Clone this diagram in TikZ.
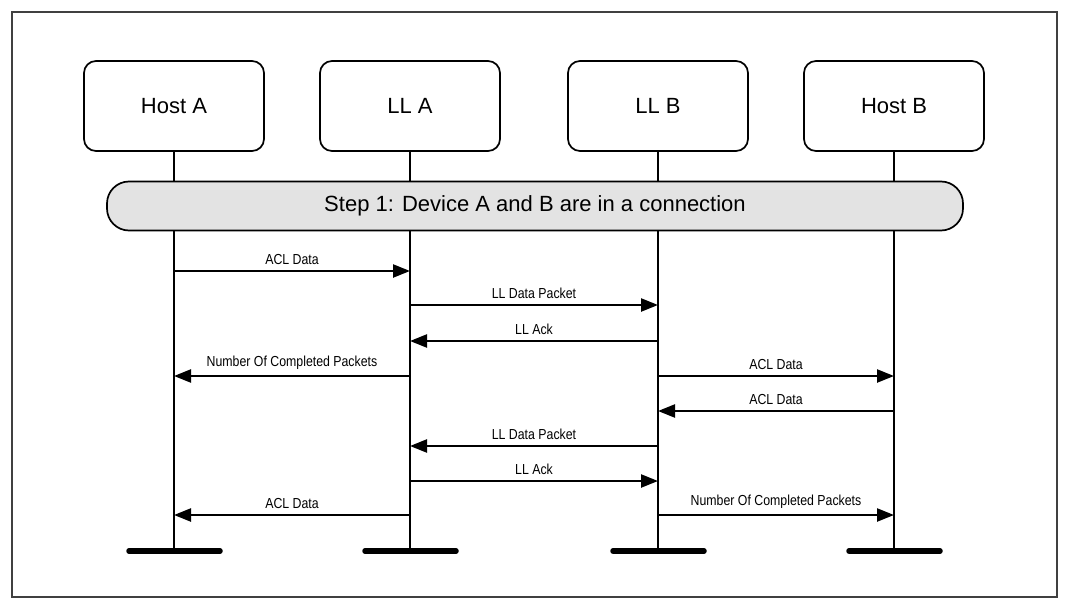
\documentclass[tikz,border=0pt]{standalone}
\usepackage{fontspec}
\setmainfont{Liberation Sans}
\newfontfamily\narrowfont[FakeStretch=0.85]{Liberation Sans}
\usetikzlibrary{arrows.meta}
\begin{document}
\begin{tikzpicture}[x=1pt,y=-1pt,
  entity/.style={draw, line width=1.7pt, rounded corners=12pt, minimum width=180pt,
    minimum height=90pt, inner sep=0pt, font=\fontsize{22}{26}\selectfont},
  lifeline/.style={line width=1.9pt},
  baseline bar/.style={line width=5.5pt, line cap=round},
  msg/.style={line width=2.4pt, -{Triangle[length=17pt,width=13pt]}},
  msglabel/.style={midway, above, inner sep=5pt, font=\narrowfont\fontsize{14.5}{16}\selectfont},
  stepband/.style={draw, line width=1.7pt, fill=black!11, rounded corners=22pt,
    minimum width=856pt, minimum height=49pt, inner sep=0pt, font=\fontsize{22}{26}\selectfont}
]
\useasboundingbox (0,0) rectangle (1068,610);
\draw[line width=1.2pt, black!75] (12,12) rectangle (1057,597);

% participants
\node[entity] (hA) at (174,106) {Host A};
\node[entity] (lA) at (410,106) {LL A};
\node[entity] (lB) at (658,106) {LL B};
\node[entity] (hB) at (894,106) {Host B};

% end of each lifeline
\coordinate (ehA) at (174,551);
\coordinate (elA) at (410,551);
\coordinate (elB) at (658,551);
\coordinate (ehB) at (894,551);

\foreach \p in {hA,lA,lB,hB}{
  \draw[lifeline] (\p.south) -- (e\p);
  \draw[baseline bar] ([xshift=-45pt]e\p) -- ([xshift=46pt]e\p);
}

% step band
\node[stepband] (step) at (535,206) {\raisebox{-2pt}{Step 1: Device A and B are in a connection}};

% messages, at named points on the lifelines
\foreach \y/\n in {271/1,305/2,341/3,376/4,411/5,446/6,481/7,515/8}{
  \coordinate (hA\n) at (174,\y);
  \coordinate (lA\n) at (410,\y);
  \coordinate (lB\n) at (658,\y);
  \coordinate (hB\n) at (894,\y);
}
\draw[msg] (hA1) -- (lA1) node[msglabel] {ACL Data};
\draw[msg] (lA2) -- (lB2) node[msglabel] {LL Data Packet};
\draw[msg] (lB3) -- (lA3) node[msglabel] {LL Ack};
\draw[msg] (lA4) -- (hA4) node[msglabel] {Number Of Completed Packets};
\draw[msg] (lB4) -- (hB4) node[msglabel] {ACL Data};
\draw[msg] (hB5) -- (lB5) node[msglabel] {ACL Data};
\draw[msg] (lB6) -- (lA6) node[msglabel] {LL Data Packet};
\draw[msg] (lA7) -- (lB7) node[msglabel] {LL Ack};
\draw[msg] (lA8) -- (hA8) node[msglabel] {ACL Data};
\draw[msg] (lB8) -- (hB8) node[msglabel] {Number Of Completed Packets};
\end{tikzpicture}
\end{document}
